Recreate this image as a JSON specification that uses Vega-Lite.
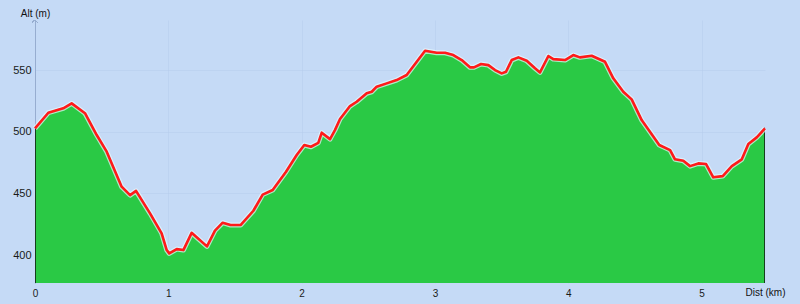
{
  "$schema": "https://vega.github.io/schema/vega-lite/v6.json",
  "width": 730,
  "height": 263,
  "autosize": {"type": "none"},
  "padding": {"left": 35, "top": 20, "right": 35, "bottom": 21},
  "background": "#c5daf6",
  "config": {
    "view": {"stroke": null},
    "font": "Liberation Sans",
    "axis": {"labelFont": "Liberation Sans", "titleFont": "Liberation Sans", "labelColor": "#1a1a1a", "titleColor": "#111111", "ticks": false, "gridColor": "#b3c9ec", "gridOpacity": 0.45, "gridWidth": 1}
  },
  "data": {"values": [
    {"d": 0.0, "alt": 502.7}, {"d": 0.100, "alt": 515.4}, {"d": 0.212, "alt": 519}, {"d": 0.275, "alt": 523},
    {"d": 0.375, "alt": 515}, {"d": 0.463, "alt": 497.3}, {"d": 0.538, "alt": 483.8}, {"d": 0.650, "alt": 455.4},
    {"d": 0.713, "alt": 448.6}, {"d": 0.758, "alt": 452}, {"d": 0.863, "alt": 433.8}, {"d": 0.950, "alt": 417.6},
    {"d": 0.988, "alt": 404}, {"d": 1.007, "alt": 401.3}, {"d": 1.063, "alt": 404.8}, {"d": 1.113, "alt": 404},
    {"d": 1.175, "alt": 418}, {"d": 1.290, "alt": 407}, {"d": 1.350, "alt": 419.8}, {"d": 1.408, "alt": 426.2},
    {"d": 1.467, "alt": 424.3}, {"d": 1.542, "alt": 424.3}, {"d": 1.638, "alt": 435.9}, {"d": 1.708, "alt": 449},
    {"d": 1.783, "alt": 452.7}, {"d": 1.883, "alt": 467.5}, {"d": 1.963, "alt": 481.1}, {"d": 2.020, "alt": 489.2},
    {"d": 2.070, "alt": 487.8}, {"d": 2.125, "alt": 491}, {"d": 2.151, "alt": 499.2}, {"d": 2.213, "alt": 494},
    {"d": 2.250, "alt": 501.3}, {"d": 2.288, "alt": 510.3}, {"d": 2.363, "alt": 520.8}, {"d": 2.413, "alt": 524.3},
    {"d": 2.488, "alt": 531.1}, {"d": 2.526, "alt": 532.4}, {"d": 2.563, "alt": 536.5}, {"d": 2.638, "alt": 539.2},
    {"d": 2.713, "alt": 541.9}, {"d": 2.788, "alt": 546}, {"d": 2.926, "alt": 565.7}, {"d": 3.013, "alt": 564},
    {"d": 3.076, "alt": 564}, {"d": 3.138, "alt": 562.2}, {"d": 3.201, "alt": 558.1}, {"d": 3.263, "alt": 552.2},
    {"d": 3.293, "alt": 552.2}, {"d": 3.346, "alt": 554.9}, {"d": 3.401, "alt": 554}, {"d": 3.451, "alt": 550},
    {"d": 3.501, "alt": 547.3}, {"d": 3.533, "alt": 548.6}, {"d": 3.576, "alt": 558.1}, {"d": 3.626, "alt": 560.3},
    {"d": 3.689, "alt": 557.5}, {"d": 3.751, "alt": 551.4}, {"d": 3.788, "alt": 548.1}, {"d": 3.851, "alt": 561.4},
    {"d": 3.888, "alt": 558.9}, {"d": 3.976, "alt": 558.1}, {"d": 4.038, "alt": 562.2}, {"d": 4.088, "alt": 560.3},
    {"d": 4.176, "alt": 561.6}, {"d": 4.276, "alt": 556.7}, {"d": 4.338, "alt": 543.3}, {"d": 4.413, "alt": 532.4},
    {"d": 4.476, "alt": 526.2}, {"d": 4.551, "alt": 509.4}, {"d": 4.613, "alt": 500}, {"d": 4.683, "alt": 489.2},
    {"d": 4.764, "alt": 485.1}, {"d": 4.801, "alt": 477.6}, {"d": 4.863, "alt": 476.4}, {"d": 4.914, "alt": 472.1},
    {"d": 4.976, "alt": 474.3}, {"d": 5.034, "alt": 473.8}, {"d": 5.088, "alt": 463}, {"d": 5.159, "alt": 464},
    {"d": 5.227, "alt": 472.1}, {"d": 5.302, "alt": 477.6}, {"d": 5.351, "alt": 490}, {"d": 5.414, "alt": 495.4},
    {"d": 5.476, "alt": 502.7}
  ]},
  "layer": [
    {
      "mark": {"type": "area", "color": "#2ac945", "stroke": "#111111", "strokeWidth": 1.5, "clip": true},
      "encoding": {
        "x": {"field": "d", "type": "quantitative", "scale": {"domain": [0, 5.476], "nice": false, "zero": false},
          "axis": {"values": [0, 1, 2, 3, 4, 5], "format": "d", "domain": false, "grid": true, "labelFontSize": 10, "labelPadding": 5,
            "title": "Dist (km)", "titleFontSize": 10, "titleFontWeight": "normal", "titleX": 730, "titleY": 9, "titleAlign": "center", "titleBaseline": "middle", "labelFlush": false}},
        "y": {"field": "alt", "type": "quantitative", "scale": {"domain": [377.3, 590.6], "nice": false, "zero": false},
          "axis": {"values": [400, 450, 500, 550], "domain": true, "domainColor": "#97add0", "domainWidth": 1, "grid": true, "labelFontSize": 11, "labelPadding": 4,
            "title": "Alt (m)", "titleFontSize": 10, "titleFontWeight": "normal", "titleAngle": 0, "titleX": 0, "titleY": -7, "titleAlign": "center", "titleBaseline": "middle"}}
      }
    },
    {
      "mark": {"type": "line", "color": "#e6fbff", "strokeWidth": 5, "strokeJoin": "round", "opacity": 0.7},
      "encoding": {"x": {"field": "d", "type": "quantitative"}, "y": {"field": "alt", "type": "quantitative"}}
    },
    {
      "mark": {"type": "line", "color": "#ff1a1a", "strokeWidth": 2.6, "strokeJoin": "round"},
      "encoding": {"x": {"field": "d", "type": "quantitative"}, "y": {"field": "alt", "type": "quantitative"}}
    },
    {
      "mark": {"type": "point", "shape": "M-1,1L0,0L1,1", "size": 30, "filled": false, "stroke": "#97add0", "strokeWidth": 1, "opacity": 1},
      "encoding": {"x": {"datum": 0}, "y": {"datum": 590.6}}
    }
  ]
}
